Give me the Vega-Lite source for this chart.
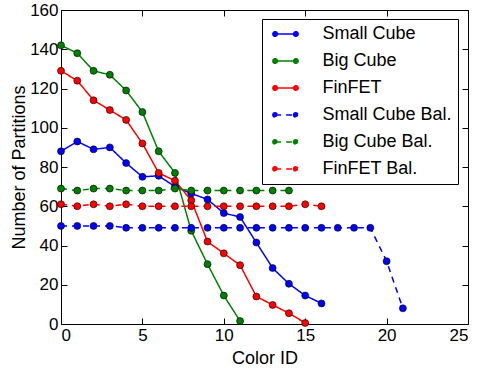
{
  "$schema": "https://vega.github.io/schema/vega-lite/v6.json",
  "width": 407,
  "height": 314,
  "autosize": {"type": "none"},
  "padding": {"left": 61, "top": 10, "right": 10, "bottom": 48},
  "background": "white",
  "config": {
    "font": "Liberation Sans",
    "view": {"stroke": "black", "strokeWidth": 1},
    "axis": {
      "grid": false,
      "domain": false,
      "offset": -6,
      "tickSize": 6,
      "tickWidth": 1,
      "tickColor": "black",
      "labelColor": "black",
      "titleColor": "black",
      "labelFont": "Liberation Sans",
      "titleFont": "Liberation Sans",
      "labelFontSize": 17,
      "titleFontSize": 18,
      "titleFontWeight": "normal",
      "labelPadding": 3
    },
    "legend": {
      "orient": "none",
      "legendX": 201,
      "legendY": 9,
      "fillColor": "white",
      "strokeColor": "black",
      "strokeWidth": 1,
      "cornerRadius": 0,
      "padding": 5.5,
      "symbolType": "M-1.22,0L1.22,0M-1.49,0A0.27,0.27,0,1,1,-0.95,0A0.27,0.27,0,1,1,-1.49,0ZM0.95,0A0.27,0.27,0,1,1,1.49,0A0.27,0.27,0,1,1,0.95,0Z",
      "symbolSize": 289,
      "symbolStrokeWidth": 1.5,
      "symbolOffset": 8.5,
      "labelOffset": 27.5,
      "labelFont": "Liberation Sans",
      "labelFontSize": 18,
      "labelColor": "black",
      "rowPadding": 8
    }
  },
  "data": {
    "values": [
      {"s": "Small Cube", "x": 0, "y": 88}, {"s": "Small Cube", "x": 1, "y": 93}, {"s": "Small Cube", "x": 2, "y": 89}, {"s": "Small Cube", "x": 3, "y": 90}, {"s": "Small Cube", "x": 4, "y": 82}, {"s": "Small Cube", "x": 5, "y": 75}, {"s": "Small Cube", "x": 6, "y": 75.5}, {"s": "Small Cube", "x": 7, "y": 70}, {"s": "Small Cube", "x": 8, "y": 66.5}, {"s": "Small Cube", "x": 9, "y": 63.5}, {"s": "Small Cube", "x": 10, "y": 56.5}, {"s": "Small Cube", "x": 11, "y": 54.5}, {"s": "Small Cube", "x": 12, "y": 41.5}, {"s": "Small Cube", "x": 13, "y": 28.5}, {"s": "Small Cube", "x": 14, "y": 20.5}, {"s": "Small Cube", "x": 15, "y": 14.5}, {"s": "Small Cube", "x": 16, "y": 10.5},
      {"s": "Big Cube", "x": 0, "y": 142}, {"s": "Big Cube", "x": 1, "y": 138}, {"s": "Big Cube", "x": 2, "y": 129}, {"s": "Big Cube", "x": 3, "y": 127}, {"s": "Big Cube", "x": 4, "y": 119}, {"s": "Big Cube", "x": 5, "y": 108}, {"s": "Big Cube", "x": 6, "y": 88}, {"s": "Big Cube", "x": 7, "y": 77}, {"s": "Big Cube", "x": 8, "y": 47.5}, {"s": "Big Cube", "x": 9, "y": 30.5}, {"s": "Big Cube", "x": 10, "y": 14.5}, {"s": "Big Cube", "x": 11, "y": 1.5},
      {"s": "FinFET", "x": 0, "y": 129}, {"s": "FinFET", "x": 1, "y": 124}, {"s": "FinFET", "x": 2, "y": 114}, {"s": "FinFET", "x": 3, "y": 109}, {"s": "FinFET", "x": 4, "y": 104}, {"s": "FinFET", "x": 5, "y": 92}, {"s": "FinFET", "x": 6, "y": 77}, {"s": "FinFET", "x": 7, "y": 73}, {"s": "FinFET", "x": 8, "y": 63}, {"s": "FinFET", "x": 9, "y": 42}, {"s": "FinFET", "x": 10, "y": 36}, {"s": "FinFET", "x": 11, "y": 30}, {"s": "FinFET", "x": 12, "y": 14}, {"s": "FinFET", "x": 13, "y": 9.7}, {"s": "FinFET", "x": 14, "y": 5.5}, {"s": "FinFET", "x": 15, "y": 0.5},
      {"s": "Small Cube Bal.", "x": 0, "y": 50}, {"s": "Small Cube Bal.", "x": 1, "y": 50}, {"s": "Small Cube Bal.", "x": 2, "y": 50}, {"s": "Small Cube Bal.", "x": 3, "y": 50}, {"s": "Small Cube Bal.", "x": 4, "y": 49}, {"s": "Small Cube Bal.", "x": 5, "y": 49}, {"s": "Small Cube Bal.", "x": 6, "y": 49}, {"s": "Small Cube Bal.", "x": 7, "y": 49}, {"s": "Small Cube Bal.", "x": 8, "y": 49}, {"s": "Small Cube Bal.", "x": 9, "y": 49}, {"s": "Small Cube Bal.", "x": 10, "y": 49}, {"s": "Small Cube Bal.", "x": 11, "y": 49}, {"s": "Small Cube Bal.", "x": 12, "y": 49}, {"s": "Small Cube Bal.", "x": 13, "y": 49}, {"s": "Small Cube Bal.", "x": 14, "y": 49}, {"s": "Small Cube Bal.", "x": 15, "y": 49}, {"s": "Small Cube Bal.", "x": 16, "y": 49}, {"s": "Small Cube Bal.", "x": 17, "y": 49}, {"s": "Small Cube Bal.", "x": 18, "y": 49}, {"s": "Small Cube Bal.", "x": 19, "y": 49}, {"s": "Small Cube Bal.", "x": 20, "y": 32}, {"s": "Small Cube Bal.", "x": 21, "y": 8},
      {"s": "Big Cube Bal.", "x": 0, "y": 69}, {"s": "Big Cube Bal.", "x": 1, "y": 68}, {"s": "Big Cube Bal.", "x": 2, "y": 69}, {"s": "Big Cube Bal.", "x": 3, "y": 69}, {"s": "Big Cube Bal.", "x": 4, "y": 68}, {"s": "Big Cube Bal.", "x": 5, "y": 68}, {"s": "Big Cube Bal.", "x": 6, "y": 68}, {"s": "Big Cube Bal.", "x": 7, "y": 69}, {"s": "Big Cube Bal.", "x": 8, "y": 68}, {"s": "Big Cube Bal.", "x": 9, "y": 68}, {"s": "Big Cube Bal.", "x": 10, "y": 68}, {"s": "Big Cube Bal.", "x": 11, "y": 68}, {"s": "Big Cube Bal.", "x": 12, "y": 68}, {"s": "Big Cube Bal.", "x": 13, "y": 68}, {"s": "Big Cube Bal.", "x": 14, "y": 68},
      {"s": "FinFET Bal.", "x": 0, "y": 61}, {"s": "FinFET Bal.", "x": 1, "y": 60}, {"s": "FinFET Bal.", "x": 2, "y": 61}, {"s": "FinFET Bal.", "x": 3, "y": 60}, {"s": "FinFET Bal.", "x": 4, "y": 61}, {"s": "FinFET Bal.", "x": 5, "y": 60}, {"s": "FinFET Bal.", "x": 6, "y": 60}, {"s": "FinFET Bal.", "x": 7, "y": 60}, {"s": "FinFET Bal.", "x": 8, "y": 60}, {"s": "FinFET Bal.", "x": 9, "y": 60}, {"s": "FinFET Bal.", "x": 10, "y": 60}, {"s": "FinFET Bal.", "x": 11, "y": 60}, {"s": "FinFET Bal.", "x": 12, "y": 60}, {"s": "FinFET Bal.", "x": 13, "y": 60}, {"s": "FinFET Bal.", "x": 14, "y": 60}, {"s": "FinFET Bal.", "x": 15, "y": 61}, {"s": "FinFET Bal.", "x": 16, "y": 60}
    ]
  },
  "resolve": {"axis": {"x": "independent", "y": "independent"}},
  "layer": [
    {
      "mark": {"type": "line", "strokeWidth": 1.5},
      "encoding": {
        "x": {"field": "x", "type": "quantitative", "scale": {"domain": [0, 25], "nice": false, "zero": false},
              "axis": {"orient": "bottom", "title": "Color ID", "values": [0, 5, 10, 15, 20, 25], "titlePadding": 6}},
        "y": {"field": "y", "type": "quantitative", "scale": {"domain": [0, 160], "nice": false},
              "axis": {"orient": "left", "title": "Number of Partitions", "values": [0, 20, 40, 60, 80, 100, 120, 140, 160], "titlePadding": 1}},
        "detail": {"field": "s"},
        "color": {"field": "s", "type": "nominal",
                  "scale": {"domain": ["Small Cube", "Big Cube", "FinFET", "Small Cube Bal.", "Big Cube Bal.", "FinFET Bal."],
                            "range": ["#0000ff", "#008000", "#ff0000", "#0000ff", "#008000", "#ff0000"]},
                  "legend": {"title": null, "encode": {"symbols": {"update": {"fill": {"scale": "color", "field": "value"}}}}}},
        "strokeDash": {"field": "s", "type": "nominal",
                  "scale": {"domain": ["Small Cube", "Big Cube", "FinFET", "Small Cube Bal.", "Big Cube Bal.", "FinFET Bal."],
                            "range": [[1, 0], [1, 0], [1, 0], [6, 5], [6, 5], [6, 5]]},
                  "legend": {"title": null, "encode": {"symbols": {"update": {"fill": {"scale": "color", "field": "value"}}}}}}
      }
    },
    {
      "mark": {"type": "point", "filled": true, "shape": "circle", "size": 49, "stroke": "black", "strokeWidth": 0.6, "opacity": 1},
      "encoding": {
        "x": {"field": "x", "type": "quantitative",
              "axis": {"orient": "top", "title": null, "labels": false, "values": [0, 5, 10, 15, 20, 25]}},
        "y": {"field": "y", "type": "quantitative",
              "axis": {"orient": "right", "title": null, "labels": false, "values": [0, 20, 40, 60, 80, 100, 120, 140, 160]}},
        "color": {"field": "s", "type": "nominal", "legend": null}
      }
    }
  ]
}
